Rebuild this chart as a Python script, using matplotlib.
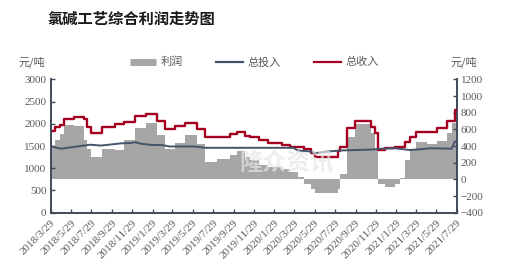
import matplotlib
matplotlib.use("Agg")
import matplotlib.pyplot as plt
from matplotlib.lines import Line2D
import pandas as pd

plt.rcParams['font.family'] = ['Liberation Serif', 'Noto Sans CJK SC', 'DejaVu Sans']

# 总收入 (left axis, 元/吨) - change points
rev_dates = ['2018-03-29', '2018-04-10', '2018-04-26', '2018-05-08', '2018-06-08', '2018-07-08',
             '2018-07-17', '2018-07-29', '2018-08-29', '2018-10-08', '2018-11-05', '2018-12-08',
             '2019-01-08', '2019-02-10', '2019-03-08', '2019-04-05', '2019-05-05', '2019-06-10',
             '2019-07-05', '2019-08-10', '2019-09-19', '2019-10-08', '2019-11-01', '2019-11-16',
             '2019-12-14', '2020-01-10', '2020-02-21', '2020-03-16', '2020-04-26', '2020-05-17',
             '2020-05-29', '2020-08-08', '2020-08-14', '2020-09-04', '2020-09-26', '2020-11-14',
             '2020-11-26', '2020-12-05', '2020-12-26', '2021-01-26', '2021-02-24', '2021-03-12',
             '2021-03-29', '2021-06-01', '2021-06-29', '2021-07-23', '2021-07-29']
rev_vals = [1845, 1935, 1970, 2100, 2160, 2100,
            1930, 1800, 1935, 1990, 2050, 2175,
            2220, 2060, 1875, 1950, 2025, 1880,
            1695, 1710, 1760, 1820, 1730, 1700,
            1635, 1560, 1520, 1485, 1425, 1335,
            1260, 1380, 1480, 1900, 2060, 1930,
            1800, 1410, 1450, 1485, 1600, 1710,
            1825, 1910, 2070, 2320, 2320]

# 总投入 (left axis, 元/吨)
inp_dates = ['2018-03-29', '2018-04-16', '2018-04-29', '2018-06-08', '2018-06-26', '2018-07-26',
             '2018-08-26', '2018-09-26', '2018-10-26', '2018-11-26', '2018-12-08', '2018-12-26',
             '2019-01-26', '2019-02-28', '2019-03-20', '2019-06-04', '2019-07-06', '2020-03-26',
             '2020-04-08', '2020-05-13', '2020-05-31', '2020-06-29', '2020-08-14', '2020-11-14',
             '2020-12-14', '2021-01-26', '2021-03-10', '2021-04-14', '2021-05-14', '2021-07-14',
             '2021-07-23', '2021-07-29']
inp_vals = [1500, 1460, 1440, 1480, 1500, 1530,
            1510, 1535, 1560, 1570, 1585, 1550,
            1525, 1520, 1490, 1490, 1460, 1460,
            1400, 1380, 1340, 1370, 1400, 1420,
            1440, 1450, 1410, 1430, 1450, 1440,
            1600, 1600]

# 利润 (right axis, 元/吨)
pro_dates = ['2018-03-29', '2018-04-10', '2018-04-26', '2018-05-08', '2018-06-08', '2018-07-08',
             '2018-07-17', '2018-07-29', '2018-08-29', '2018-10-08', '2018-11-05', '2018-12-08',
             '2019-01-08', '2019-02-10', '2019-03-08', '2019-04-05', '2019-05-05', '2019-06-10',
             '2019-07-05', '2019-08-10', '2019-09-19', '2019-10-08', '2019-11-01', '2019-11-16',
             '2019-12-14', '2020-01-10', '2020-02-21', '2020-03-16', '2020-04-08', '2020-04-26',
             '2020-05-17', '2020-05-29', '2020-08-08', '2020-08-14', '2020-09-04', '2020-09-26',
             '2020-11-14', '2020-11-26', '2020-12-05', '2020-12-26', '2021-01-26', '2021-02-08',
             '2021-02-24', '2021-03-12', '2021-03-29', '2021-05-01', '2021-06-01', '2021-06-29',
             '2021-07-14', '2021-07-29']
pro_vals = [396, 468, 540, 648, 640, 468,
            368, 268, 368, 350, 468, 616,
            680, 528, 368, 440, 528, 430,
            208, 248, 288, 340, 270, 230,
            170, 150, 120, 90, 30, -52,
            -112, -164, -112, 68, 508, 660,
            560, 348, -52, -92, -60, 20,
            228, 368, 448, 428, 456, 560,
            680, 680]

tick_dates = ['2018-03-29', '2018-05-29', '2018-07-29', '2018-09-29', '2018-11-29', '2019-01-29',
              '2019-03-29', '2019-05-29', '2019-07-29', '2019-09-29', '2019-11-29', '2020-01-29',
              '2020-03-29', '2020-05-29', '2020-07-29', '2020-09-29', '2020-11-29', '2021-01-29',
              '2021-03-29', '2021-05-29', '2021-07-29']

red = '#a50021'
navy = '#44546a'
gray = '#a6a6a6'
spine_c = '#404a58'
txt_c = '#595959'

fig = plt.figure(figsize=(5.08, 2.75), dpi=100)
ax = fig.add_axes([0.0998, 0.2265, 0.7992, 0.485])
ax2 = ax.twinx()

rd = pd.to_datetime(rev_dates)
idt = pd.to_datetime(inp_dates)
pd_ = pd.to_datetime(pro_dates)

ax2.fill_between(pd_, 0, pro_vals, step='post', color=gray, lw=0)
ax.step(rd, rev_vals, where='post', color=red, lw=1.7)
ax.plot(idt, inp_vals, color=navy, lw=1.4)

ax.set_zorder(ax2.get_zorder() + 1)
ax.patch.set_visible(False)

ax.set_ylim(0, 3000)
ax.set_yticks(range(0, 3001, 500))
ax2.set_ylim(-400, 1200)
ax2.set_yticks(range(-400, 1201, 200))

td = pd.to_datetime(tick_dates)
ax.set_xlim(td[0], td[-1])
ax.set_xticks(td)
ax.set_xticklabels([f'{d.year}/{d.month}/{d.day}' for d in td], rotation=45,
                   ha='right', rotation_mode='anchor')

for a in (ax, ax2):
    a.spines['top'].set_visible(False)
    for s in ('left', 'right', 'bottom'):
        a.spines[s].set_color(spine_c)
        a.spines[s].set_linewidth(1.4)
    a.tick_params(direction='in', length=3, width=1, color=spine_c,
                  labelsize=8, labelcolor=txt_c, pad=3)
ax.spines['right'].set_visible(False)
ax2.spines['left'].set_visible(False)
ax2.spines['bottom'].set_visible(False)
ax.tick_params(axis='x', pad=4)

fig.text(0.093, 0.931, '氯碱工艺综合利润走势图', fontsize=11, fontweight='bold',
         family=['Noto Sans CJK SC'], va='center', ha='left', color='#1a1a1a')
fig.text(0.036, 0.774, '元/吨', fontsize=8, color=txt_c, family=['Noto Sans CJK SC'], va='center')
fig.text(0.886, 0.774, '元/吨', fontsize=8, color=txt_c, family=['Noto Sans CJK SC'], va='center')

handles = [Line2D([], [], color=gray, lw=5, solid_capstyle='butt'),
           Line2D([], [], color=navy, lw=1.6),
           Line2D([], [], color=red, lw=1.6)]
fig.legend(handles, ['利润', '总投入', '总收入'], loc='center', bbox_to_anchor=(0.5, 0.774),
           ncol=3, frameon=False, handlelength=2.4, handletextpad=0.4, columnspacing=3.0,
           prop={'family': ['Noto Sans CJK SC'], 'size': 8}, labelcolor=txt_c)

# watermark
ax.text(0.58, 0.38, '隆众资讯', transform=ax.transAxes, fontsize=17, color='#e6e6e6',
        alpha=0.7, family=['Noto Sans CJK SC'], ha='center', va='center', fontweight='bold')

fig.savefig('out.png', dpi=100)
